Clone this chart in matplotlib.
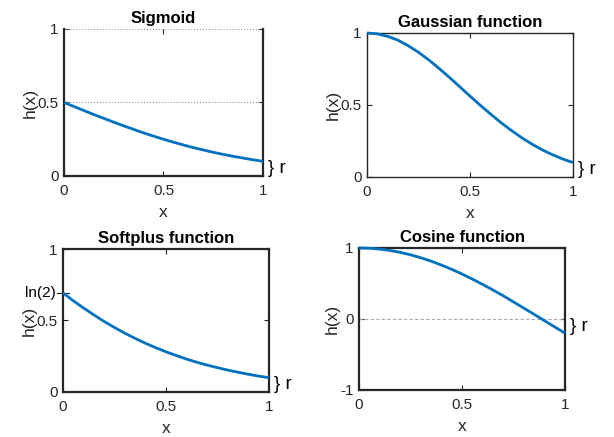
import matplotlib.pyplot as plt

plt.rcParams['font.family'] = ['Liberation Sans', 'DejaVu Sans']

# sample points
x = [0.0, 0.05, 0.1, 0.15, 0.2, 0.25, 0.3, 0.35, 0.4, 0.45, 0.5,
     0.55, 0.6, 0.65, 0.7, 0.75, 0.8, 0.85, 0.9, 0.95, 1.0]
sigmoid = [0.5, 0.473, 0.445, 0.418, 0.392, 0.366, 0.341, 0.317, 0.293, 0.271, 0.25,
           0.23, 0.211, 0.193, 0.177, 0.161, 0.147, 0.134, 0.122, 0.110, 0.1]
gaussian = [1.0, 0.994, 0.977, 0.95, 0.912, 0.866, 0.813, 0.754, 0.692, 0.627, 0.562,
            0.498, 0.437, 0.378, 0.324, 0.274, 0.229, 0.189, 0.155, 0.125, 0.1]
softplus = [0.693, 0.638, 0.587, 0.539, 0.493, 0.451, 0.411, 0.375, 0.341, 0.31, 0.281,
            0.255, 0.23, 0.208, 0.188, 0.17, 0.153, 0.138, 0.124, 0.111, 0.1]
cosine = [1.0, 0.996, 0.984, 0.965, 0.938, 0.904, 0.862, 0.814, 0.759, 0.699, 0.633,
          0.562, 0.487, 0.408, 0.327, 0.24, 0.153, 0.065, -0.024, -0.112, -0.2]

titles = ['Sigmoid', 'Gaussian function', 'Softplus function', 'Cosine function']
series = [sigmoid, gaussian, softplus, cosine]
r_vals = [0.1, 0.1, 0.1, -0.2]
ylims = [(0, 1), (0, 1), (0, 1), (-1, 1)]
yticks = [[0, 0.5, 1], [0, 0.5, 1], [0, 0.5, 1], [-1, 0, 1]]
xticks = [0, 0.5, 1]

positions = [
    [0.1042, 0.5973, 0.3241, 0.3364],
    [0.5977, 0.5950, 0.3355, 0.3295],
    [0.1026, 0.1030, 0.3355, 0.3272],
    [0.5847, 0.1076, 0.3355, 0.3250],
]

blue = '#0072BD'
txt = '#262626'

fig = plt.figure(figsize=(6.14, 4.37), dpi=100)

for i in range(4):
    ax = fig.add_axes(positions[i])
    ax.plot(x, series[i], color=blue, lw=2.0, solid_capstyle='butt', clip_on=False, zorder=3)
    ax.set_xlim(0, 1)
    ax.set_ylim(*ylims[i])
    ax.set_xticks(xticks)
    ax.set_xticklabels(['0', '0.5', '1'])
    ax.set_yticks(yticks[i])
    ax.set_yticklabels([('%g' % v) for v in yticks[i]])
    ax.tick_params(direction='in', length=3.5, width=0.8, top=True, right=True,
                   labelsize=11, colors=txt, labelcolor=txt)
    ax.tick_params(axis='x', pad=6)
    ax.tick_params(axis='y', pad=4)
    ax.set_xlabel('x', fontsize=12.5, color=txt, labelpad=5)
    ax.set_ylabel('h(x)', fontsize=12.5, color=txt, labelpad=0)
    ax.set_title(titles[i], fontsize=12, fontweight='bold', color='black', pad=4)

    lw = 1.0 if i == 1 else 1.6
    for s in ax.spines.values():
        s.set_linewidth(lw)
        s.set_color(txt)

    # brace marking r at the right end
    ax.text(1.025, r_vals[i] / 2, '} r', transform=ax.get_yaxis_transform(),
            ha='left', va='center', fontsize=13.5, color='black')

    if i == 0:
        ax.spines['top'].set_visible(False)
        ax.axhline(1, color='#999999', lw=0.8, ls=':', clip_on=False)
        ax.axhline(0.5, color='#999999', lw=0.8, ls=':')
    if i == 2:
        ax.text(-0.035, 0.693, 'ln(2)', transform=ax.get_yaxis_transform(),
                ha='right', va='center', fontsize=11, color='black')
        ax.plot([-0.03, 0.03], [0.693, 0.693], color=txt, lw=0.8,
                transform=ax.get_yaxis_transform(), clip_on=False)
    if i == 3:
        ax.axhline(0, color='#aaaaaa', lw=0.8, ls='--', dashes=(3, 2))

fig.savefig('out.png', dpi=100)
